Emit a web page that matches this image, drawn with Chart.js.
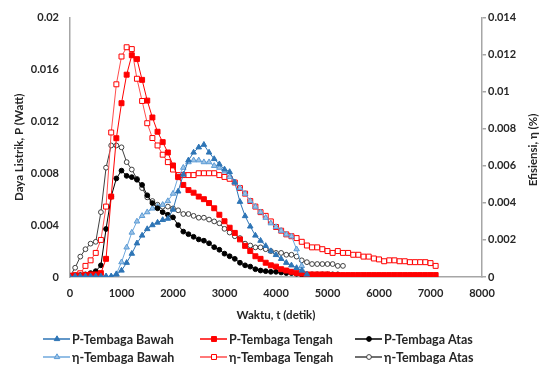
<!DOCTYPE html>
<html lang="id">
<head>
<meta charset="UTF-8">
<title>Daya dan Efisiensi</title>
<script src="https://cdn.jsdelivr.net/npm/chart.js@4.4.0/dist/chart.umd.min.js"></script>
<style>
    body { margin: 0; background: #fff; }
    #wrap { width: 541px; height: 374px; }
</style>
</head>
<body>
<div id="wrap"><canvas id="myChart" width="541" height="374"></canvas></div>
<script>
    // waktu (detik), every 100 s
    const waktu = [
        0, 100, 200, 300, 400, 500, 600, 700, 800, 900,
        1000, 1100, 1200, 1300, 1400, 1500, 1600, 1700, 1800, 1900,
        2000, 2100, 2200, 2300, 2400, 2500, 2600, 2700, 2800, 2900,
        3000, 3100, 3200, 3300, 3400, 3500, 3600, 3700, 3800, 3900,
        4000, 4100, 4200, 4300, 4400, 4500, 4600, 4700, 4800, 4900,
        5000, 5100, 5200, 5300, 5400, 5500, 5600, 5700, 5800, 5900,
        6000, 6100, 6200, 6300, 6400, 6500, 6600, 6700, 6800, 6900,
        7000, 7100
    ]

    // daya listrik P (Watt)
    const pBawah = [
        0, 0.00005, 0.00005, 0.00005, 0.00005, 0.00005, 0.00005, 0.00005, 0.00005, 0.0002,
        0.0005, 0.0011, 0.0018, 0.0026, 0.0032, 0.0037, 0.0040, 0.0042, 0.0044, 0.0045,
        0.0052, 0.0066, 0.0079, 0.0090, 0.0096, 0.0100, 0.0102, 0.0096, 0.0091, 0.0087,
        0.0083, 0.0081, 0.0073, 0.0058, 0.0047, 0.0039, 0.0032, 0.0028, 0.0024, 0.0020,
        0.0017, 0.0014, 0.0011, 0.0009, 0.0007, 0.0005, 0.0002
    ]
    const pTengah = [
        0.0001, 0.0001, 0.0001, 0.00015, 0.0002, 0.0002, 0.0003, 0.0014, 0.0062, 0.0107,
        0.0134, 0.0156, 0.0171, 0.0168, 0.0152, 0.0136, 0.0123, 0.0112, 0.0104, 0.0096,
        0.0086, 0.0077, 0.0071, 0.0067, 0.0065, 0.0062, 0.0060, 0.0057, 0.0053, 0.0048,
        0.0043, 0.0038, 0.0034, 0.0029, 0.0024, 0.0020, 0.0016, 0.0014, 0.0011, 0.0009,
        0.0008, 0.0006, 0.0005, 0.0004, 0.0003, 0.00026, 0.0002, 0.0002, 0.0002, 0.0002,
        0.0002, 0.00015, 0.00015, 0.00015, 0.00015, 0.00015, 0.00015, 0.00015, 0.00015, 0.00015,
        0.00015, 0.00015, 0.00015, 0.00015, 0.00015, 0.00015, 0.00015, 0.00015, 0.00015, 0.00015,
        0.00015, 0.00015
    ]
    const pAtas = [
        0, 0.0001, 0.00015, 0.0002, 0.0003, 0.00045, 0.0009, 0.0037, 0.0062, 0.0076,
        0.0082, 0.0078, 0.0077, 0.0075, 0.0071, 0.0063, 0.0057, 0.0053, 0.0050, 0.0048,
        0.0046, 0.0040, 0.0035, 0.0033, 0.0031, 0.0029, 0.0028, 0.0026, 0.0023, 0.0021,
        0.0018, 0.0016, 0.0014, 0.0011, 0.0009, 0.0008, 0.0006, 0.0005, 0.00045, 0.0004,
        0.0004, 0.00035, 0.0003, 0.0003, 0.00025, 0.0002, 0.0002, 0.0002, 0.0002, 0.0002,
        0.0002, 0.0002, 0.0002
    ]

    // efisiensi η (%)
    const etaBawah = [
        0, 0.00003, 0.00003, 0.00003, 0.00003, 0.00003, 0.00003, 0.00003, 0.00003, 0.00016,
        0.0008, 0.0016, 0.0024, 0.0030, 0.0033, 0.0035, 0.0037, 0.0038, 0.0039, 0.0041,
        0.0045, 0.0054, 0.0059, 0.0062, 0.0063, 0.0063, 0.0062, 0.0062, 0.0060, 0.0059,
        0.0057, 0.0054, 0.0051, 0.0048, 0.0045, 0.0041, 0.0038, 0.0035, 0.0032, 0.0029,
        0.0027, 0.0025, 0.0023, 0.0022, 0.0015, 0.0006, 0.0001
    ]
    const etaTengah = [
        0.00005, 0.0001, 0.0002, 0.0006, 0.0009, 0.0013, 0.0020, 0.0038, 0.0078, 0.0104,
        0.0119, 0.0124, 0.0123, 0.0107, 0.0095, 0.0083, 0.0075, 0.0071, 0.0066, 0.0062,
        0.0058, 0.0055, 0.0055, 0.0055, 0.0055, 0.0056, 0.0056, 0.0056, 0.0056, 0.0055,
        0.0054, 0.0053, 0.0051, 0.0048, 0.0045, 0.0041, 0.0038, 0.0035, 0.0033, 0.0030,
        0.0027, 0.0025, 0.0023, 0.0022, 0.0021, 0.0019, 0.0017, 0.0016, 0.0016, 0.0015,
        0.0014, 0.0013, 0.0014, 0.0013, 0.0013, 0.0012, 0.0012, 0.0011, 0.0011, 0.0010,
        0.00095, 0.00085, 0.0009, 0.0009, 0.00085, 0.00085, 0.0008, 0.0008, 0.0008, 0.0008,
        0.00075, 0.0006
    ]
    const etaAtas = [
        0.00005, 0.0005, 0.0011, 0.0015, 0.0018, 0.0019, 0.0035, 0.0059, 0.0071, 0.0071,
        0.0070, 0.0062, 0.0058, 0.0053, 0.0048, 0.0043, 0.0041, 0.0039, 0.0038, 0.0038,
        0.0037, 0.0036, 0.0034, 0.0034, 0.0033, 0.0032, 0.0032, 0.0031, 0.0030, 0.0029,
        0.0026, 0.0024, 0.0022, 0.0021, 0.0018, 0.0017, 0.0016, 0.0016, 0.0015, 0.0014,
        0.0013, 0.0013, 0.0012, 0.0012, 0.0011, 0.0009, 0.0008, 0.0007, 0.0007, 0.0007,
        0.0007, 0.0007, 0.0006, 0.0006
    ]

    const xTicks = [0, 1000, 2000, 3000, 4000, 5000, 6000, 7000, 8000]

    const FONT = 'Lato'
    const TEXT = '#262626'
    const AXIS_GREY = '#a6a6a6'

    const toPoints = (values) => values.map((v, i) => ({ x: waktu[i], y: v }))

    const series = (label, values, axis, line, marker, fill, style, r) => ({
        label: label,
        data: toPoints(values),
        yAxisID: axis,
        borderColor: line,
        borderWidth: 1,
        pointStyle: style,
        pointRadius: r,
        pointBorderWidth: 1,
        pointBorderColor: marker,
        pointBackgroundColor: fill,
        fill: false,
        tension: 0
    })

    const fmt = (v) => String(parseFloat(Number(v).toFixed(4)))

    // legend in a fixed 3 x 2 grid under the chart, plus the right-hand title
    const legendCols = [43, 200, 355]
    const legendRows = [339, 357]
    const extras = {
        id: 'extras',
        afterDraw(chart) {
            const ctx = chart.ctx
            chart.data.datasets.forEach((ds, i) => {
                const x = legendCols[i % 3]
                const y = legendRows[Math.floor(i / 3)]
                ctx.save()
                ctx.strokeStyle = ds.borderColor
                ctx.lineWidth = 1.5
                ctx.beginPath()
                ctx.moveTo(x, y)
                ctx.lineTo(x + 27, y)
                ctx.stroke()
                ctx.fillStyle = ds.pointBackgroundColor
                ctx.strokeStyle = ds.pointBorderColor
                ctx.lineWidth = 1
                Chart.helpers.drawPoint(ctx, { pointStyle: ds.pointStyle, radius: ds.pointRadius, borderWidth: 1, rotation: 0 }, x + 14, y)
                ctx.fillStyle = TEXT
                ctx.font = 'bold 12.5px ' + FONT
                ctx.textBaseline = 'middle'
                ctx.textAlign = 'left'
                ctx.fillText(ds.label, x + 29, y + 1)
                ctx.restore()
            })
            ctx.save()
            ctx.translate(533, 150)
            ctx.rotate(-Math.PI / 2)
            ctx.fillStyle = TEXT
            ctx.font = 'bold 11.5px ' + FONT
            ctx.textAlign = 'center'
            ctx.textBaseline = 'middle'
            ctx.fillText('Efisiensi, η (%)', 0, 0)
            ctx.restore()
        }
    }

    const chart = new Chart('myChart', {
        type: 'line',
        data: {
            datasets: [
                series('P-Tembaga Bawah', pBawah, 'y', '#2e75b6', '#2e75b6', '#2e75b6', 'triangle', 3.2),
                series('P-Tembaga Tengah', pTengah, 'y', '#ff0000', '#ff0000', '#ff0000', 'rect', 3.5),
                series('P-Tembaga Atas', pAtas, 'y', '#000000', '#000000', '#000000', 'circle', 2.4),
                series('η-Tembaga Bawah', etaBawah, 'y1', '#6fa8dc', '#5b9bd5', '#9dc3e6', 'triangle', 3.2),
                series('η-Tembaga Tengah', etaTengah, 'y1', '#ff4d4d', '#ff0000', '#ffffff', 'rect', 3.5),
                series('η-Tembaga Atas', etaAtas, 'y1', '#404040', '#404040', '#ffffff', 'circle', 2.4)
            ]
        },
        options: {
            responsive: false,
            animation: false,
            devicePixelRatio: 1,
            layout: { padding: { top: 12, bottom: 52, left: 0, right: 0 } },
            plugins: {
                legend: { display: false },
                tooltip: { enabled: false }
            },
            scales: {
                x: {
                    type: 'linear',
                    min: 0,
                    max: 8000,
                    afterBuildTicks: (scale) => { scale.ticks = xTicks.map(v => ({ value: v })) },
                    afterFit: (scale) => { scale.height = 45 },
                    grid: { display: false, drawTicks: false },
                    border: { display: true, color: AXIS_GREY, width: 1.5 },
                    ticks: {
                        padding: 10,
                        color: TEXT,
                        font: { family: FONT, size: 11, weight: 'bold' },
                        maxRotation: 0,
                        callback: (v) => String(v)
                    },
                    title: {
                        display: true,
                        text: 'Waktu, t (detik)',
                        color: TEXT,
                        font: { family: FONT, size: 11.5, weight: 'bold' },
                        padding: { top: 4, bottom: 0 }
                    }
                },
                y: {
                    position: 'left',
                    min: 0,
                    max: 0.02,
                    afterFit: (scale) => { scale.width = 70 },
                    grid: { display: false, drawTicks: false },
                    border: { display: true, color: AXIS_GREY, width: 1.5 },
                    ticks: {
                        stepSize: 0.004,
                        padding: 11,
                        color: TEXT,
                        font: { family: FONT, size: 11, weight: 'bold' },
                        callback: fmt
                    },
                    title: {
                        display: true,
                        text: 'Daya Listrik, P (Watt)',
                        color: TEXT,
                        font: { family: FONT, size: 11.5, weight: 'bold' },
                        padding: { top: 12, bottom: 0 }
                    }
                },
                y1: {
                    position: 'right',
                    min: 0,
                    max: 0.014,
                    afterFit: (scale) => { scale.width = 59 },
                    grid: { display: true, drawOnChartArea: false, drawTicks: true, tickLength: 4, color: AXIS_GREY, lineWidth: 1.5 },
                    border: { display: true, color: AXIS_GREY, width: 1.5 },
                    ticks: {
                        stepSize: 0.002,
                        padding: 2,
                        color: TEXT,
                        font: { family: FONT, size: 11, weight: 'bold' },
                        callback: fmt
                    },
                    title: { display: false }
                }
            }
        },
        plugins: [extras]
    })
</script>
</body>
</html>
